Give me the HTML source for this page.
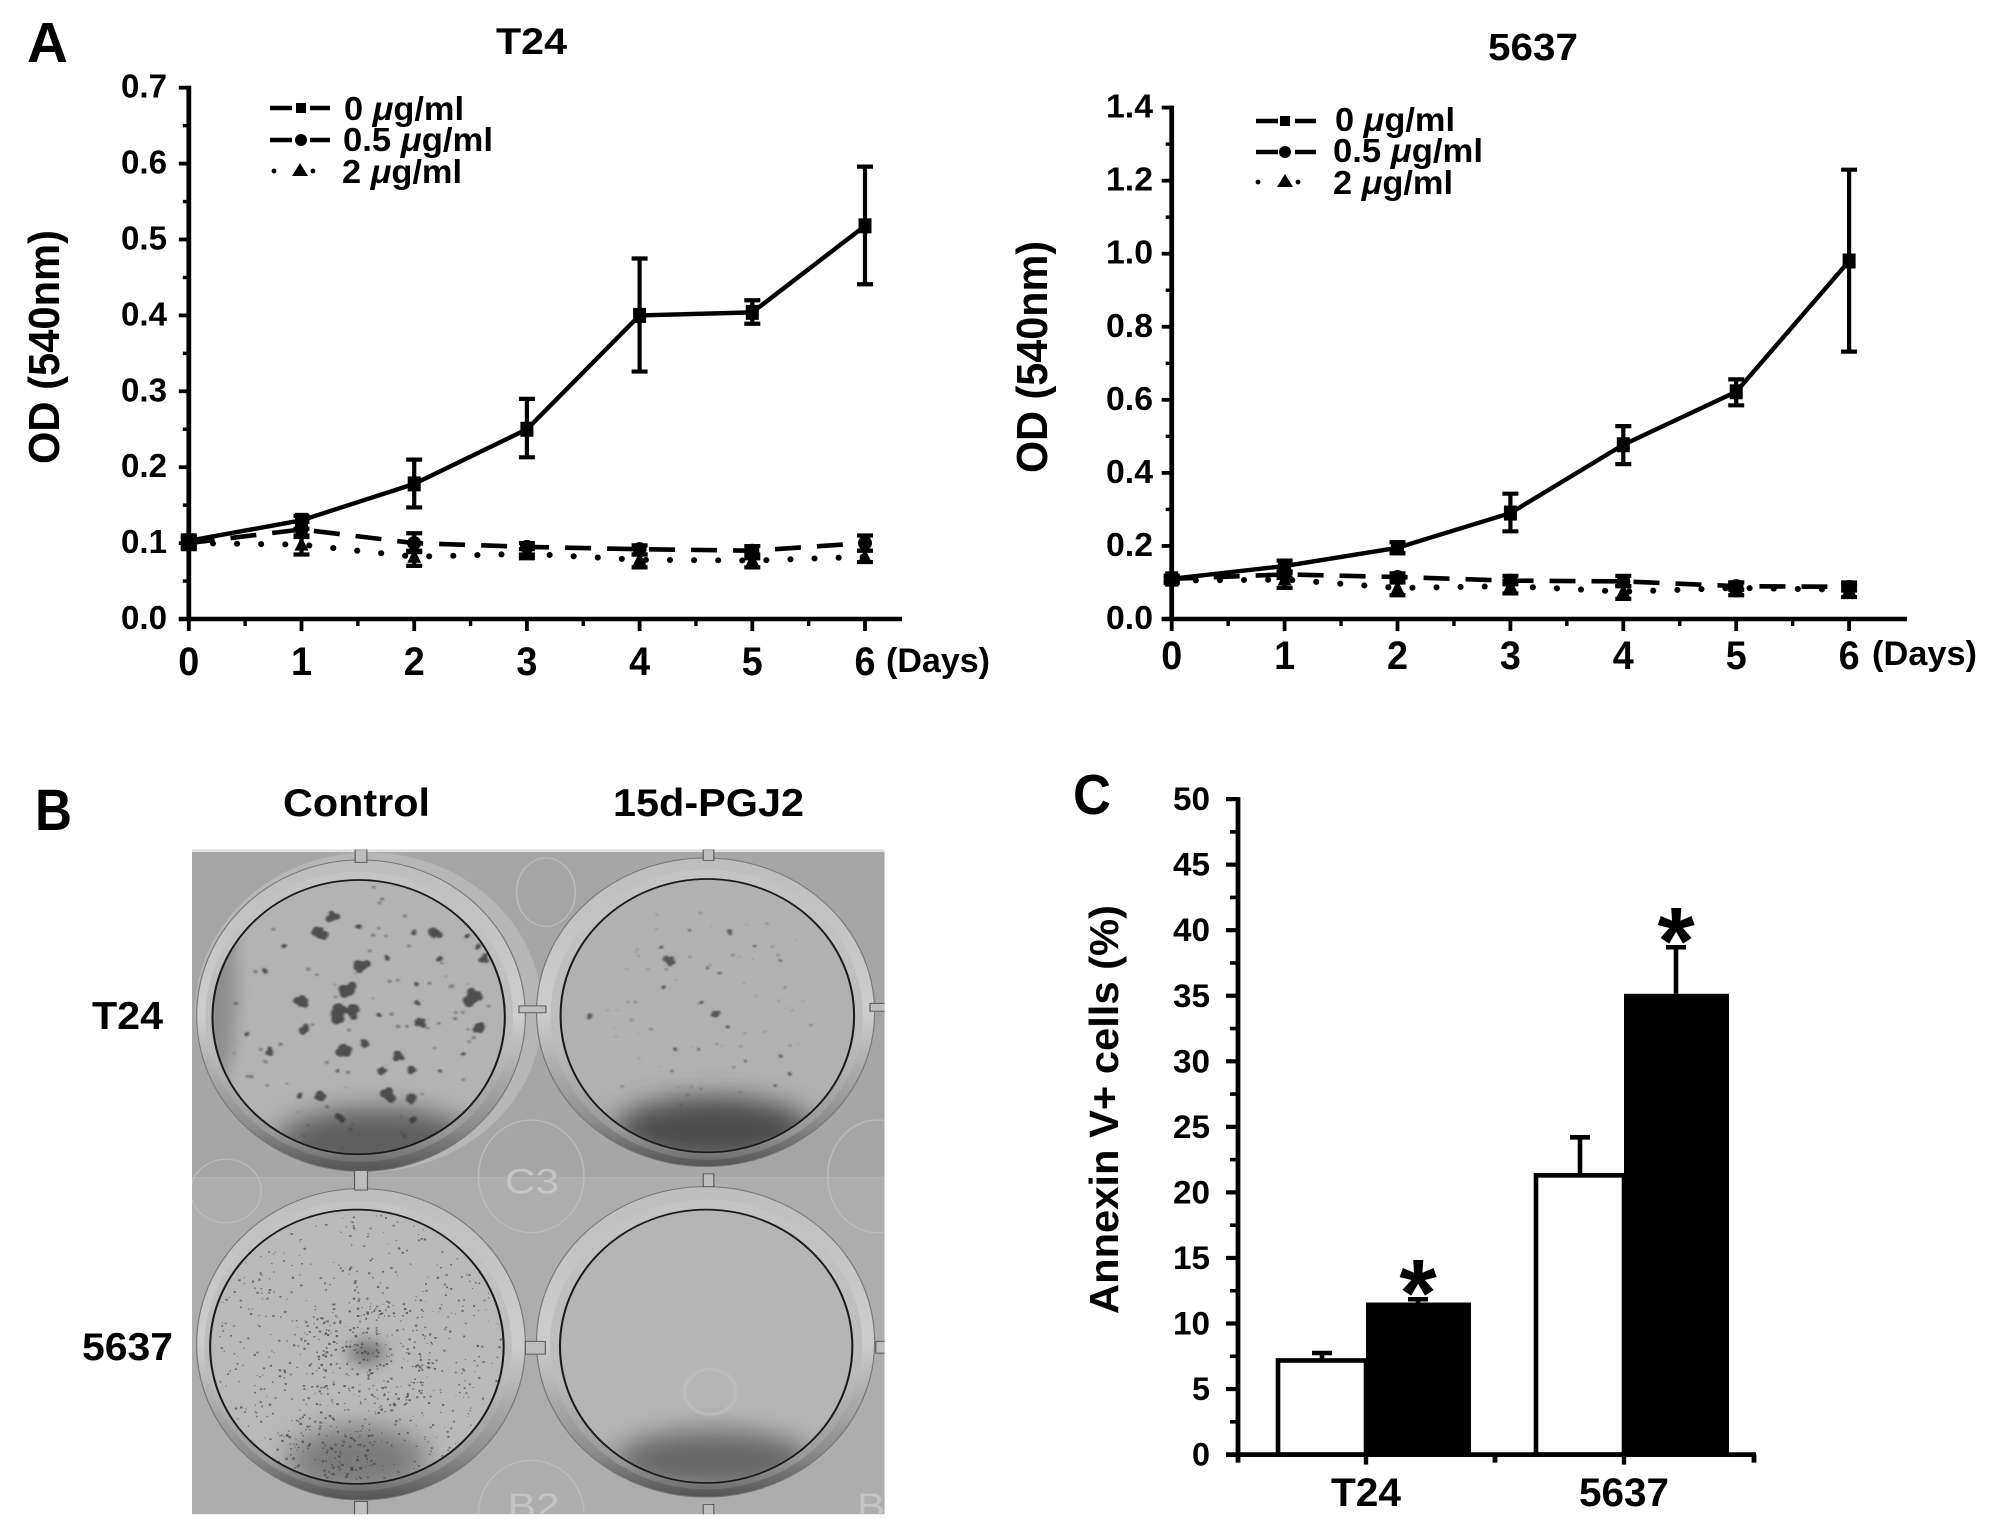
<!DOCTYPE html>
<html lang="en">
<head>
<meta charset="utf-8">
<title>15d-PGJ2 proliferation figure</title>
<style>
html,body{margin:0;padding:0;background:#fff;width:1990px;height:1528px;overflow:hidden}
svg{display:block}
text{font-family:"Liberation Sans",sans-serif;font-weight:bold;fill:#000}
</style>
</head>
<body>
<svg id="fig" xmlns="http://www.w3.org/2000/svg" width="1990" height="1528" viewBox="0 0 1990 1528">
<defs>
  <filter id="blurBig" x="-50%" y="-50%" width="200%" height="200%"><feGaussianBlur stdDeviation="26"/></filter>
  <filter id="blurMid" x="-50%" y="-50%" width="200%" height="200%"><feGaussianBlur stdDeviation="14"/></filter>
  <filter id="blurSmall" x="-50%" y="-50%" width="200%" height="200%"><feGaussianBlur stdDeviation="1.6"/></filter>
  <linearGradient id="rimGrad" x1="0" y1="0" x2="0" y2="1">
    <stop offset="0" stop-color="#bdbdbd"/><stop offset=".5" stop-color="#cdcdcd"/><stop offset=".85" stop-color="#8e8e8e"/><stop offset="1" stop-color="#555"/>
  </linearGradient>
  <linearGradient id="rimInner" x1="0" y1="0" x2="0" y2="1">
    <stop offset="0" stop-color="#c4c4c4"/><stop offset=".6" stop-color="#bcbcbc"/><stop offset=".9" stop-color="#979797"/><stop offset="1" stop-color="#707070"/>
  </linearGradient>
  <clipPath id="plateClip"><rect x="327" y="183" width="1180" height="1357"/></clipPath>
  <clipPath id="wellTL"><ellipse cx="611" cy="525" rx="249" ry="280"/></clipPath>
  <clipPath id="wellTR"><ellipse cx="1205" cy="522" rx="250" ry="279"/></clipPath>
  <clipPath id="wellBL"><ellipse cx="608" cy="1198" rx="250" ry="280"/></clipPath>
  <clipPath id="wellBR"><ellipse cx="1203" cy="1197" rx="249" ry="279"/></clipPath>
</defs>

<!-- Panel letters -->
<text x="27" y="62" font-size="57" textLength="41" lengthAdjust="spacingAndGlyphs">A</text>
<text x="35" y="830" font-size="58" textLength="37" lengthAdjust="spacingAndGlyphs">B</text>
<text x="1073" y="814" font-size="57" textLength="38" lengthAdjust="spacingAndGlyphs">C</text>

<!-- Panel A titles -->
<text x="496" y="54" font-size="37" textLength="71" lengthAdjust="spacingAndGlyphs">T24</text>
<text x="1488" y="60" font-size="38" textLength="90" lengthAdjust="spacingAndGlyphs">5637</text>

<!-- Panel A Y titles -->
<text transform="translate(59,464) rotate(-90)" font-size="44" textLength="234" lengthAdjust="spacingAndGlyphs">OD (540nm)</text>
<text transform="translate(1047,473) rotate(-90)" font-size="44" textLength="232" lengthAdjust="spacingAndGlyphs">OD (540nm)</text>

<!-- X unit labels -->
<text x="886" y="672" font-size="34" textLength="104" lengthAdjust="spacingAndGlyphs">(Days)</text>
<text x="1872" y="665" font-size="34" textLength="105" lengthAdjust="spacingAndGlyphs">(Days)</text>

<!-- Legends -->
<g>
  <g stroke="#000" fill="#000">
    <path d="M270 108H292M310 108H330" stroke-width="4.4" fill="none"/><rect x="296" y="103" width="10" height="10" stroke="none"/>
    <text x="344" y="120" font-size="33" textLength="120" lengthAdjust="spacingAndGlyphs" stroke="none">0 <tspan font-style="italic">μ</tspan>g/ml</text>
  </g>
  <g stroke="#000" fill="#000">
    <path d="M270 140H292M310 140H330" stroke-width="4.4" fill="none"/><circle cx="301" cy="140" r="6" stroke="none"/>
    <text x="343" y="151" font-size="33" textLength="150" lengthAdjust="spacingAndGlyphs" stroke="none">0.5 <tspan font-style="italic">μ</tspan>g/ml</text>
  </g>
  <g stroke="none" fill="#000">
    <circle cx="274" cy="171" r="2.4"/><polygon points="300,163 308,176 292,176"/><circle cx="313" cy="171" r="2.4"/>
    <text x="342" y="183" font-size="33" textLength="120" lengthAdjust="spacingAndGlyphs">2 <tspan font-style="italic">μ</tspan>g/ml</text>
  </g>
</g>
<g>
  <g stroke="#000" fill="#000">
    <path d="M1256 121H1278M1295 121H1316" stroke-width="4.4" fill="none"/><rect x="1280" y="116" width="10" height="10" stroke="none"/>
    <text x="1335" y="131" font-size="33" textLength="120" lengthAdjust="spacingAndGlyphs" stroke="none">0 <tspan font-style="italic">μ</tspan>g/ml</text>
  </g>
  <g stroke="#000" fill="#000">
    <path d="M1256 152H1278M1295 152H1316" stroke-width="4.4" fill="none"/><circle cx="1285" cy="152" r="6" stroke="none"/>
    <text x="1333" y="162" font-size="33" textLength="150" lengthAdjust="spacingAndGlyphs" stroke="none">0.5 <tspan font-style="italic">μ</tspan>g/ml</text>
  </g>
  <g stroke="none" fill="#000">
    <circle cx="1258" cy="182" r="2.4"/><polygon points="1285,174 1293,187 1277,187"/><circle cx="1298" cy="182" r="2.4"/>
    <text x="1333" y="194" font-size="33" textLength="120" lengthAdjust="spacingAndGlyphs">2 <tspan font-style="italic">μ</tspan>g/ml</text>
  </g>
</g>

<g id="t24Chart"></g>
<g id="c5637Chart"></g>

<!-- Panel B labels -->
<text x="283" y="816" font-size="39" textLength="147" lengthAdjust="spacingAndGlyphs">Control</text>
<text x="613" y="816" font-size="39" textLength="191" lengthAdjust="spacingAndGlyphs">15d-PGJ2</text>
<text x="92" y="1029" font-size="39" textLength="71" lengthAdjust="spacingAndGlyphs">T24</text>
<text x="82" y="1360" font-size="39" textLength="91" lengthAdjust="spacingAndGlyphs">5637</text>

<!-- Panel B plate photo approximation -->
<g id="plate" transform="translate(0,760) scale(.5870,.4898)">
  <g clip-path="url(#plateClip)">
    <rect x="327" y="183" width="1180" height="670" fill="#a6a6a6"/>
    <rect x="327" y="853" width="1180" height="687" fill="#adadad"/>
    <rect x="327" y="183" width="1180" height="5" fill="#dedede"/>
    <g fill="none" stroke="#bcbcbc" stroke-width="2.5">
      <ellipse cx="905" cy="850" rx="90" ry="115"/>
      <ellipse cx="1495" cy="850" rx="85" ry="115"/>
      <ellipse cx="930" cy="270" rx="50" ry="70"/>
      <ellipse cx="385" cy="880" rx="60" ry="65"/>
      <ellipse cx="905" cy="1540" rx="90" ry="110"/>
    </g>
    <text x="860" y="885" font-size="72" style="fill:#c4c4c4;font-weight:normal">C3</text>
    <text x="865" y="1548" font-size="72" style="fill:#c4c4c4;font-weight:normal">B2</text>
    <text x="1460" y="1548" font-size="72" style="fill:#c4c4c4;font-weight:normal">B</text>
    <ellipse cx="628" cy="515" rx="296" ry="326" fill="#b6b6b6"/>
    <g>
      <ellipse cx="615" cy="522" rx="280" ry="318" fill="url(#rimGrad)" stroke="#777" stroke-width="2"/>
      <ellipse cx="612" cy="524" rx="262" ry="296" fill="url(#rimInner)"/>
      <ellipse cx="611" cy="525" rx="249" ry="280" fill="#b3b3b3"/>
      <g clip-path="url(#wellTL)">
        <ellipse cx="640" cy="780" rx="170" ry="70" fill="#5e5e5e" filter="url(#blurBig)"/>
        <ellipse cx="370" cy="470" rx="34" ry="190" fill="#8e8e8e" filter="url(#blurMid)"/>
        <g id="spotsTL" fill="#333" filter="url(#blurSmall)" opacity=".78"></g>
      </g>
      <ellipse cx="611" cy="525" rx="249" ry="280" fill="none" stroke="#1a1a1a" stroke-width="3.5"/>
    </g>
    <g>
      <ellipse cx="1202" cy="515" rx="288" ry="315" fill="url(#rimGrad)" stroke="#777" stroke-width="2"/>
      <ellipse cx="1204" cy="520" rx="266" ry="296" fill="url(#rimInner)"/>
      <ellipse cx="1205" cy="522" rx="250" ry="279" fill="#b1b1b1"/>
      <g clip-path="url(#wellTR)">
        <ellipse cx="1215" cy="755" rx="170" ry="68" fill="#4e4e4e" filter="url(#blurBig)"/>
        <g id="spotsTR" fill="#333" filter="url(#blurSmall)" opacity=".7"></g>
      </g>
      <ellipse cx="1205" cy="522" rx="250" ry="279" fill="none" stroke="#1a1a1a" stroke-width="3.5"/>
    </g>
    <g>
      <ellipse cx="615" cy="1193" rx="280" ry="318" fill="url(#rimGrad)" stroke="#777" stroke-width="2"/>
      <ellipse cx="610" cy="1196" rx="262" ry="296" fill="url(#rimInner)"/>
      <ellipse cx="608" cy="1198" rx="250" ry="280" fill="#b9b9b9"/>
      <g clip-path="url(#wellBL)">
        <ellipse cx="610" cy="1430" rx="120" ry="70" fill="#7c7c7c" filter="url(#blurBig)"/>
        <ellipse cx="625" cy="1210" rx="30" ry="26" fill="#777" filter="url(#blurMid)"/>
        <g id="spotsBL" fill="#3c3c3c"></g>
      </g>
      <ellipse cx="608" cy="1198" rx="250" ry="280" fill="none" stroke="#1a1a1a" stroke-width="3.5"/>
    </g>
    <g>
      <ellipse cx="1202" cy="1188" rx="288" ry="317" fill="url(#rimGrad)" stroke="#777" stroke-width="2"/>
      <ellipse cx="1203" cy="1193" rx="266" ry="296" fill="url(#rimInner)"/>
      <ellipse cx="1203" cy="1197" rx="249" ry="279" fill="#b5b5b5"/>
      <g clip-path="url(#wellBR)">
        <ellipse cx="1215" cy="1430" rx="170" ry="62" fill="#686868" filter="url(#blurBig)"/>
        <ellipse cx="1210" cy="1290" rx="44" ry="46" fill="none" stroke="#bebebe" stroke-width="5" filter="url(#blurSmall)"/>
      </g>
      <ellipse cx="1203" cy="1197" rx="249" ry="279" fill="none" stroke="#1a1a1a" stroke-width="3.5"/>
    </g>
    <g fill="#bdbdbd" stroke="#5c5c5c" stroke-width="2">
      <rect x="605" y="183" width="20" height="26"/>
      <rect x="1198" y="183" width="18" height="22"/>
      <rect x="884" y="502" width="46" height="14"/>
      <rect x="1482" y="497" width="28" height="16"/>
      <rect x="604" y="838" width="22" height="40"/>
      <rect x="1198" y="845" width="18" height="26"/>
      <rect x="895" y="1187" width="34" height="26"/>
      <rect x="1492" y="1187" width="18" height="24"/>
      <rect x="604" y="1514" width="22" height="28"/>
      <rect x="1198" y="1520" width="18" height="22"/>
    </g>
  </g>
</g>

<!-- Panel C text -->
<text transform="translate(1118,1314) rotate(-90)" font-size="41" textLength="409" lengthAdjust="spacingAndGlyphs">Annexin V+ cells (%)</text>
<g id="barChart"></g>

<script>
// ---------- Panel A data ----------
const days = [0, 1, 2, 3, 4, 5, 6];
const dayHalfTicks = [0.5, 1.5, 2.5, 3.5, 4.5, 5.5];

const t24TickLabels = ['0.0', '0.1', '0.2', '0.3', '0.4', '0.5', '0.6', '0.7'];
const t24Minor = [0.05, 0.15, 0.25, 0.35, 0.45, 0.55, 0.65];
const t24Dose0 = [0.103, 0.13, 0.178, 0.25, 0.4, 0.404, 0.518];
const t24Dose0Upper = [0.11, 0.136, 0.21, 0.29, 0.475, 0.42, 0.596];
const t24Dose0Lower = [0.096, 0.119, 0.147, 0.213, 0.326, 0.389, 0.441];
const t24Dose05 = [0.1, 0.118, 0.1, 0.095, 0.092, 0.09, 0.1];
const t24Dose05Upper = [0.108, 0.128, 0.113, 0.1, 0.097, 0.096, 0.11];
const t24Dose05Lower = [0.092, 0.108, 0.088, 0.085, 0.085, 0.08, 0.09];
const t24Dose2 = [0.1, 0.098, 0.082, 0.086, 0.078, 0.077, 0.082];
const t24Dose2Upper = [0.105, 0.11, 0.09, 0.092, 0.085, 0.085, 0.09];
const t24Dose2Lower = [0.095, 0.085, 0.07, 0.08, 0.068, 0.068, 0.075];

const c5637TickLabels = ['0.0', '0.2', '0.4', '0.6', '0.8', '1.0', '1.2', '1.4'];
const c5637Minor = [0.1, 0.3, 0.5, 0.7, 0.9, 1.1, 1.3];
const c5637Dose0 = [0.11, 0.145, 0.195, 0.29, 0.477, 0.622, 0.98];
const c5637Dose0Upper = [0.118, 0.16, 0.21, 0.343, 0.528, 0.656, 1.23];
const c5637Dose0Lower = [0.102, 0.13, 0.18, 0.24, 0.424, 0.585, 0.732];
const c5637Dose05 = [0.11, 0.122, 0.115, 0.105, 0.103, 0.09, 0.088];
const c5637Dose05Upper = [0.118, 0.13, 0.125, 0.118, 0.118, 0.1, 0.1];
const c5637Dose05Lower = [0.102, 0.112, 0.105, 0.095, 0.09, 0.08, 0.078];
const c5637Dose2 = [0.105, 0.108, 0.085, 0.09, 0.075, 0.085, 0.08];
const c5637Dose2Upper = [0.112, 0.125, 0.1, 0.105, 0.09, 0.1, 0.09];
const c5637Dose2Lower = [0.098, 0.085, 0.065, 0.07, 0.055, 0.065, 0.06];

// ---------- Panel C data ----------
const barCategories = ['T24', '5637'];
const barControl = [7.18, 21.3];
const barControlUpper = [7.75, 24.2];
const barTreated = [11.6, 35.15];
const barTreatedUpper = [11.85, 38.7];
const barTickLabels = ['0', '5', '10', '15', '20', '25', '30', '35', '40', '45', '50'];

// ---------- Photo colony lists (approximate, not chart data) ----------
const coloniesTL = [[545,355,12],[567,320,10],[612,340,6],[742,353,10],[705,353,6],[483,380,5],[452,432,6],[617,420,12],[660,405,6],[750,405,6],[825,405,8],[595,470,14],[513,495,11],[575,518,16],[600,515,12],[710,458,5],[710,495,6],[805,485,15],[520,550,9],[717,537,9],[815,545,10],[645,520,5],[585,590,13],[622,577,8],[680,605,9],[460,595,7],[652,635,7],[700,635,8],[662,685,12],[702,692,9],[545,683,10],[510,687,6],[580,730,8],[705,733,7],[420,560,5],[815,380,6],[795,360,5],[575,635,4],[750,635,4],[790,600,4]];
const coloniesTR = [[1140,410,9],[1127,382,4],[1175,348,3],[1243,350,6],[1130,465,4],[1220,520,7],[1195,495,4],[1240,545,4],[1005,522,6],[1145,635,3],[1150,590,4],[1330,605,4],[1345,640,4],[1320,665,3],[1270,615,3],[1205,425,3],[1225,435,3],[1285,380,3],[1330,410,3],[1190,590,3]];

const SVGNS = 'http://www.w3.org/2000/svg';
const INK = '#000';

function mk(parent, tag, attrs) {
  const el = document.createElementNS(SVGNS, tag);
  for (const k in attrs) el.setAttribute(k, attrs[k]);
  parent.appendChild(el);
  return el;
}
function label(parent, text, x, y, size, anchor, len) {
  const el = mk(parent, 'text', { x: x, y: y, 'font-size': size, 'text-anchor': anchor, textLength: len, lengthAdjust: 'spacingAndGlyphs' });
  el.textContent = text;
  return el;
}
function marker(parent, kind, x, y) {
  if (kind === 'square') return mk(parent, 'rect', { x: x - 6.5, y: y - 7.5, width: 13, height: 15, fill: INK });
  if (kind === 'circle') return mk(parent, 'circle', { cx: x, cy: y, r: 7, fill: INK });
  return mk(parent, 'polygon', { points: (x) + ',' + (y - 8) + ' ' + (x + 7) + ',' + (y + 6) + ' ' + (x - 7) + ',' + (y + 6), fill: INK });
}
function drawSeries(parent, name, xOf, yOf, values, upper, lower, kind, dash, width) {
  const g = mk(parent, 'g', {});
  
  
  const pts = values.map(function (v, i) { return xOf(days[i]) + ',' + yOf(v); }).join(' ');
  const line = mk(g, 'polyline', { points: pts, fill: 'none', stroke: INK, 'stroke-width': width, 'stroke-dasharray': dash, 'stroke-linecap': dash === '0.1 24' ? 'round' : 'butt', 'stroke-linejoin': 'round' });
  
  
  values.forEach(function (v, i) {
    const x = xOf(days[i]);
    const err = mk(g, 'path', {
      d: 'M' + x + ' ' + yOf(upper[i]) + 'V' + yOf(lower[i]) +
         'M' + (x - 8) + ' ' + yOf(upper[i]) + 'H' + (x + 8) +
         'M' + (x - 8) + ' ' + yOf(lower[i]) + 'H' + (x + 8),
      fill: 'none', stroke: INK, 'stroke-width': 4.2
    });
    
    
    const m = marker(g, kind, x, yOf(v));
    
    
  });
}
function drawLineAxes(parent, prefix, xOf, yOf, step, labels, minor, yEnd, xEnd, yLabelLeft, yLabelRight, xLabelBase) {
  const ax = mk(parent, 'g', {});
  
  
  const top = yOf(step * (labels.length - 1));
  const yLine = mk(ax, 'path', { d: 'M' + xOf(0) + ' ' + (top - 2) + 'V' + (yOf(0) + 2), stroke: INK, 'stroke-width': 4.8, fill: 'none' });
  
  
  const xLine = mk(ax, 'path', { d: 'M' + (xOf(0) - 10) + ' ' + yOf(0) + 'H' + xEnd, stroke: INK, 'stroke-width': 4.6, fill: 'none' });
  
  
  labels.forEach(function (t, i) {
    const y = yOf(step * i);
    const tk = mk(ax, 'path', { d: 'M' + (xOf(0) - 10) + ' ' + y + 'H' + xOf(0), stroke: INK, 'stroke-width': 3.8 });
    
    
    const l = label(ax, t, yLabelLeft, y + 10, 33, 'start', yLabelRight - yLabelLeft);
    
    
  });
  minor.forEach(function (v) {
    const tk = mk(ax, 'path', { d: 'M' + (xOf(0) - 6) + ' ' + yOf(v) + 'H' + xOf(0), stroke: INK, 'stroke-width': 3.4 });
    
    
  });
  days.forEach(function (d) {
    const x = xOf(d);
    const tk = mk(ax, 'path', { d: 'M' + x + ' ' + yOf(0) + 'V' + (yOf(0) + 12), stroke: INK, 'stroke-width': 3.8 });
    
    
    const l = label(ax, String(d), x, xLabelBase, 40, 'middle', 21);
    
    
  });
  dayHalfTicks.forEach(function (d) {
    const tk = mk(ax, 'path', { d: 'M' + xOf(d) + ' ' + yOf(0) + 'V' + (yOf(0) + 7), stroke: INK, 'stroke-width': 3.4 });
    
    
  });
}

// T24 chart
(function () {
  const parent = document.getElementById('t24Chart');
  const xOf = function (d) { return 188.8 + d * 112.7; };
  const yOf = function (v) { return 619 - v * 759; };
  drawLineAxes(parent, 't24', xOf, yOf, 0.1, t24TickLabels, t24Minor, 87.5, 902, 121, 167, 675);
  drawSeries(parent, 't24-dose-2', xOf, yOf, t24Dose2, t24Dose2Upper, t24Dose2Lower, 'triangle', '0.1 24', 6);
  drawSeries(parent, 't24-dose-0-5', xOf, yOf, t24Dose05, t24Dose05Upper, t24Dose05Lower, 'circle', '26 16', 4.6);
  drawSeries(parent, 't24-dose-0', xOf, yOf, t24Dose0, t24Dose0Upper, t24Dose0Lower, 'square', 'none', 4.4);
})();

// 5637 chart
(function () {
  const parent = document.getElementById('c5637Chart');
  const xOf = function (d) { return 1171.7 + d * 112.9; };
  const yOf = function (v) { return 619 - v * 365.3; };
  drawLineAxes(parent, '5637', xOf, yOf, 0.2, c5637TickLabels, c5637Minor, 107.6, 1907, 1106, 1153, 669);
  drawSeries(parent, '5637-dose-2', xOf, yOf, c5637Dose2, c5637Dose2Upper, c5637Dose2Lower, 'triangle', '0.1 24', 6);
  drawSeries(parent, '5637-dose-0-5', xOf, yOf, c5637Dose05, c5637Dose05Upper, c5637Dose05Lower, 'circle', '26 16', 4.6);
  drawSeries(parent, '5637-dose-0', xOf, yOf, c5637Dose0, c5637Dose0Upper, c5637Dose0Lower, 'square', 'none', 4.4);
})();

// Bar chart
(function () {
  const parent = document.getElementById('barChart');
  const x0 = 1238, y0 = 1454.6, perUnit = 13.11;
  const yOf = function (v) { return y0 - v * perUnit; };
  const groupX = function (i) { return 1366 + i * 258; };
  barCategories.forEach(function (name, i) {
    const cx = groupX(i);
    const wTop = yOf(barControl[i]);
    const w = mk(parent, 'rect', { x: cx - 88, y: wTop, width: 88, height: y0 - wTop, fill: '#fff', stroke: INK, 'stroke-width': 4.6 });
    
    
    const wErr = mk(parent, 'path', { d: 'M' + (cx - 44) + ' ' + wTop + 'V' + yOf(barControlUpper[i]) + 'M' + (cx - 54) + ' ' + yOf(barControlUpper[i]) + 'H' + (cx - 34), fill: 'none', stroke: INK, 'stroke-width': 4.6 });
    
    
    const bTop = yOf(barTreated[i]);
    const b = mk(parent, 'rect', { x: cx, y: bTop, width: 105, height: y0 - bTop, fill: INK });
    
    
    const bErr = mk(parent, 'path', { d: 'M' + (cx + 52) + ' ' + bTop + 'V' + yOf(barTreatedUpper[i]) + 'M' + (cx + 42) + ' ' + yOf(barTreatedUpper[i]) + 'H' + (cx + 62), fill: 'none', stroke: INK, 'stroke-width': 4.6 });
    
    
    const star = mk(parent, 'text', { x: cx + 52, y: yOf(barTreatedUpper[i]) + 27, 'font-size': 96, 'text-anchor': 'middle' });
    star.textContent = '*';
    
    
    const cat = label(parent, name, cx, 1506, 40, 'middle', name.length === 3 ? 70 : 90);
    
    
    const tk = mk(parent, 'path', { d: 'M' + cx + ' ' + y0 + 'V' + (y0 + 10), stroke: INK, 'stroke-width': 4.4 });
    
    
  });
  const yAxis = mk(parent, 'path', { d: 'M' + x0 + ' ' + (yOf(50) - 2) + 'V' + (y0 + 8), stroke: INK, 'stroke-width': 4.8, fill: 'none' });
  
  
  const xAxis = mk(parent, 'path', { d: 'M' + (x0 - 12) + ' ' + y0 + 'H1756M1495 ' + y0 + 'V' + (y0 + 8) + 'M1754 ' + y0 + 'V' + (y0 + 8), stroke: INK, 'stroke-width': 4.8, fill: 'none' });
  
  
  barTickLabels.forEach(function (t) {
    const v = Number(t);
    const tk = mk(parent, 'path', { d: 'M' + (x0 - 12) + ' ' + yOf(v) + 'H' + x0, stroke: INK, 'stroke-width': 4.2 });
    
    
    const minorTick = v < 50 ? mk(parent, 'path', { d: 'M' + (x0 - 8) + ' ' + yOf(v + 2.5) + 'H' + x0, stroke: INK, 'stroke-width': 3.6 }) : null;
    if (minorTick) {
      
      
    }
    const l = label(parent, t, 1210, yOf(v) + 11, 32, 'end', t.length === 2 ? 37 : 18);
    
    
  });
})();

// Plate photo colonies
(function () {
  let seed = 12345;
  function rnd() { seed = (seed * 1664525 + 1013904223) % 4294967296; return seed / 4294967296; }
  function drawColonies(id, list, name) {
    const g = document.getElementById(id);
    list.forEach(function (c) {
      const blobs = c[2] > 6 ? 6 : 2;
      for (let i = 0; i < blobs; i++) {
        const off = i === 0 ? 0 : c[2] * 0.75;
        const a = rnd() * 6.283;
        const r = c[2] * (i === 0 ? 0.7 : 0.35 + rnd() * 0.25);
        const e = mk(g, 'ellipse', { cx: c[0] + Math.cos(a) * off, cy: c[1] + Math.sin(a) * off, rx: r, ry: r * 1.15 });
        
        
      }
    });
  }
  drawColonies('spotsTL', coloniesTL, 'colony');
  drawColonies('spotsTR', coloniesTR, 'colony');

  function speckle(id, n, cx, cy, rx, ry, size, op) {
    let d = '';
    let count = 0;
    while (count < n) {
      const a = rnd() * 6.283, r = Math.sqrt(rnd());
      const x = cx + Math.cos(a) * r * rx, y = cy + Math.sin(a) * r * ry;
      const s = size * (0.6 + rnd());
      d += 'M' + x.toFixed(0) + ' ' + y.toFixed(0) + 'h' + s.toFixed(1) + 'v' + s.toFixed(1) + 'h-' + s.toFixed(1) + 'z';
      count++;
    }
    const p = mk(document.getElementById(id), 'path', { d: d, opacity: op });
    
    
  }
  speckle('spotsTL', 70, 611, 525, 240, 270, 4, 0.6);
  speckle('spotsTR', 60, 1205, 510, 200, 230, 3, 0.55);
  speckle('spotsBL', 560, 608, 1198, 245, 275, 2.6, 0.62);
  speckle('spotsBL', 220, 625, 1215, 120, 120, 2.8, 0.68);
  speckle('spotsBL', 90, 550, 1400, 100, 70, 3, 0.62);
})();
</script>
</svg>
</body>
</html>
